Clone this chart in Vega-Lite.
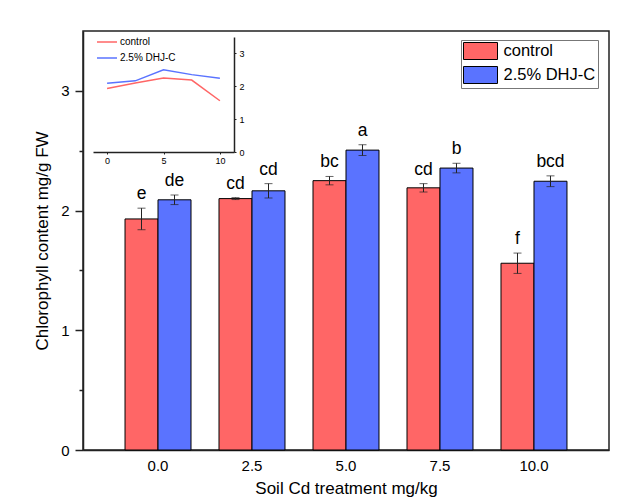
{
  "$schema": "https://vega.github.io/schema/vega-lite/v6.json",
  "width": 526,
  "height": 419,
  "autosize": {"type": "none"},
  "padding": {"left": 83, "top": 31, "right": 20, "bottom": 49},
  "background": "white",
  "config": {
    "font": "Liberation Sans",
    "view": {"stroke": "#222", "strokeWidth": 1.5, "fill": "white"}
  },
  "data": {
    "values": [
      {"dose": "0.0", "dose_num": 0, "group": "control", "value": 1.93, "lo": 1.84, "hi": 2.02, "letter": "e"},
      {"dose": "0.0", "dose_num": 0, "group": "2.5% DHJ-C", "value": 2.09, "lo": 2.05, "hi": 2.13, "letter": "de"},
      {"dose": "2.5", "dose_num": 2.5, "group": "control", "value": 2.10, "lo": 2.092, "hi": 2.108, "letter": "cd"},
      {"dose": "2.5", "dose_num": 2.5, "group": "2.5% DHJ-C", "value": 2.165, "lo": 2.105, "hi": 2.225, "letter": "cd"},
      {"dose": "5.0", "dose_num": 5, "group": "control", "value": 2.25, "lo": 2.215, "hi": 2.285, "letter": "bc"},
      {"dose": "5.0", "dose_num": 5, "group": "2.5% DHJ-C", "value": 2.505, "lo": 2.46, "hi": 2.55, "letter": "a"},
      {"dose": "7.5", "dose_num": 7.5, "group": "control", "value": 2.19, "lo": 2.155, "hi": 2.225, "letter": "cd"},
      {"dose": "7.5", "dose_num": 7.5, "group": "2.5% DHJ-C", "value": 2.355, "lo": 2.315, "hi": 2.395, "letter": "b"},
      {"dose": "10.0", "dose_num": 10, "group": "control", "value": 1.56, "lo": 1.475, "hi": 1.645, "letter": "f"},
      {"dose": "10.0", "dose_num": 10, "group": "2.5% DHJ-C", "value": 2.245, "lo": 2.2, "hi": 2.29, "letter": "bcd"}
    ]
  },
  "layer": [
    {
      "encoding": {
        "x": {
          "field": "dose", "type": "nominal", "sort": null,
          "scale": {"paddingInner": 0.298, "paddingOuter": 0.447},
          "axis": {
            "title": "Soil Cd treatment mg/kg", "labelAngle": 0, "ticks": false, "tickSize": 0,
            "labelPadding": 8, "labelFontSize": 15, "labelColor": "black",
            "titleFontSize": 17, "titleFontWeight": "normal", "titleColor": "black", "titlePadding": 7,
            "domainColor": "#222", "domainWidth": 1.5
          }
        },
        "xOffset": {"field": "group", "type": "nominal", "sort": ["control", "2.5% DHJ-C"], "scale": {"paddingInner": 0, "paddingOuter": 0}},
        "y": {
          "type": "quantitative",
          "scale": {"domain": [0, 3.5], "nice": false},
          "axis": {
            "title": "Chlorophyll content mg/g FW",
            "values": [0, 0.5, 1, 1.5, 2, 2.5, 3],
            "labelExpr": "datum.value % 1 === 0 ? format(datum.value, 'd') : ''",
            "tickSize": {"condition": {"test": "datum.value % 1 === 0", "value": 8}, "value": 4},
            "tickColor": "#222", "tickWidth": 1.5,
            "labelFontSize": 15, "labelPadding": 6, "labelColor": "black",
            "titleFontSize": 17, "titleFontWeight": "normal", "titleColor": "black", "titlePadding": 9,
            "domainColor": "#222", "domainWidth": 1.5, "grid": false
          }
        }
      },
      "layer": [
        {
          "mark": {"type": "bar", "stroke": "black", "strokeWidth": 1},
          "encoding": {
            "y": {"field": "value", "type": "quantitative"},
            "fill": {
              "field": "group", "type": "nominal",
              "scale": {"domain": ["control", "2.5% DHJ-C"], "range": ["#ff6666", "#5a73ff"]},
              "legend": {
                "orient": "none", "legendX": 378, "legendY": 9, "title": null,
                "symbolType": "M-2,-1H2V1H-2Z", "symbolSize": 289,
                "symbolStrokeColor": "black", "symbolStrokeWidth": 1,
                "symbolOffset": 8.5, "labelOffset": 14,
                "labelFontSize": 16.5, "labelColor": "black",
                "strokeColor": "#777", "fillColor": "white", "padding": 2, "rowPadding": 2
              }
            }
          }
        },
        {
          "mark": {"type": "rule", "color": "#222", "strokeWidth": 1},
          "encoding": {"y": {"field": "lo", "type": "quantitative"}, "y2": {"field": "hi"}}
        },
        {
          "mark": {"type": "tick", "color": "#222", "size": 8, "thickness": 1},
          "encoding": {"y": {"field": "lo", "type": "quantitative"}}
        },
        {
          "mark": {"type": "tick", "color": "#222", "size": 8, "thickness": 1},
          "encoding": {"y": {"field": "hi", "type": "quantitative"}}
        },
        {
          "mark": {"type": "text", "baseline": "bottom", "dy": -5, "fontSize": 17.5, "color": "black"},
          "encoding": {"y": {"field": "hi", "type": "quantitative"}, "text": {"field": "letter"}}
        }
      ]
    },
    {
      "mark": {"type": "line", "strokeWidth": 1.5, "clip": false},
      "encoding": {
        "x": {
          "field": "dose_num", "type": "quantitative",
          "scale": {"domain": [-1.25, 11.25], "range": [10, 151], "nice": false, "zero": false},
          "axis": {
            "orient": "bottom", "offset": -298, "title": null, "values": [0, 5, 10],
            "grid": false, "ticks": true, "tickSize": 2, "tickColor": "#222",
            "labelFontSize": 9, "labelPadding": 2, "labelColor": "black",
            "domainColor": "#222", "domainWidth": 1.5
          }
        },
        "y": {
          "field": "value", "type": "quantitative",
          "scale": {"domain": [0, 3.5], "range": [121, 6], "nice": false},
          "axis": {
            "orient": "right", "offset": -375, "title": null, "values": [0, 1, 2, 3],
            "grid": false, "ticks": true, "tickSize": 2, "tickColor": "#222",
            "labelFontSize": 9, "labelPadding": 3, "labelColor": "black",
            "domainColor": "#222", "domainWidth": 1.5
          }
        },
        "stroke": {
          "field": "group", "type": "nominal",
          "scale": {"domain": ["control", "2.5% DHJ-C"], "range": ["#ff6666", "#5a73ff"]},
          "legend": {
            "orient": "none", "legendX": 13, "legendY": 0, "title": null,
            "symbolType": "stroke", "symbolSize": 400, "symbolStrokeWidth": 1.5,
            "labelFontSize": 10, "labelOffset": 2, "labelColor": "black",
            "rowPadding": -10, "padding": 0
          }
        }
      }
    }
  ],
  "resolve": {
    "scale": {"x": "independent", "y": "independent", "fill": "independent", "stroke": "independent"},
    "axis": {"x": "independent", "y": "independent"},
    "legend": {"fill": "independent", "stroke": "independent"}
  }
}
